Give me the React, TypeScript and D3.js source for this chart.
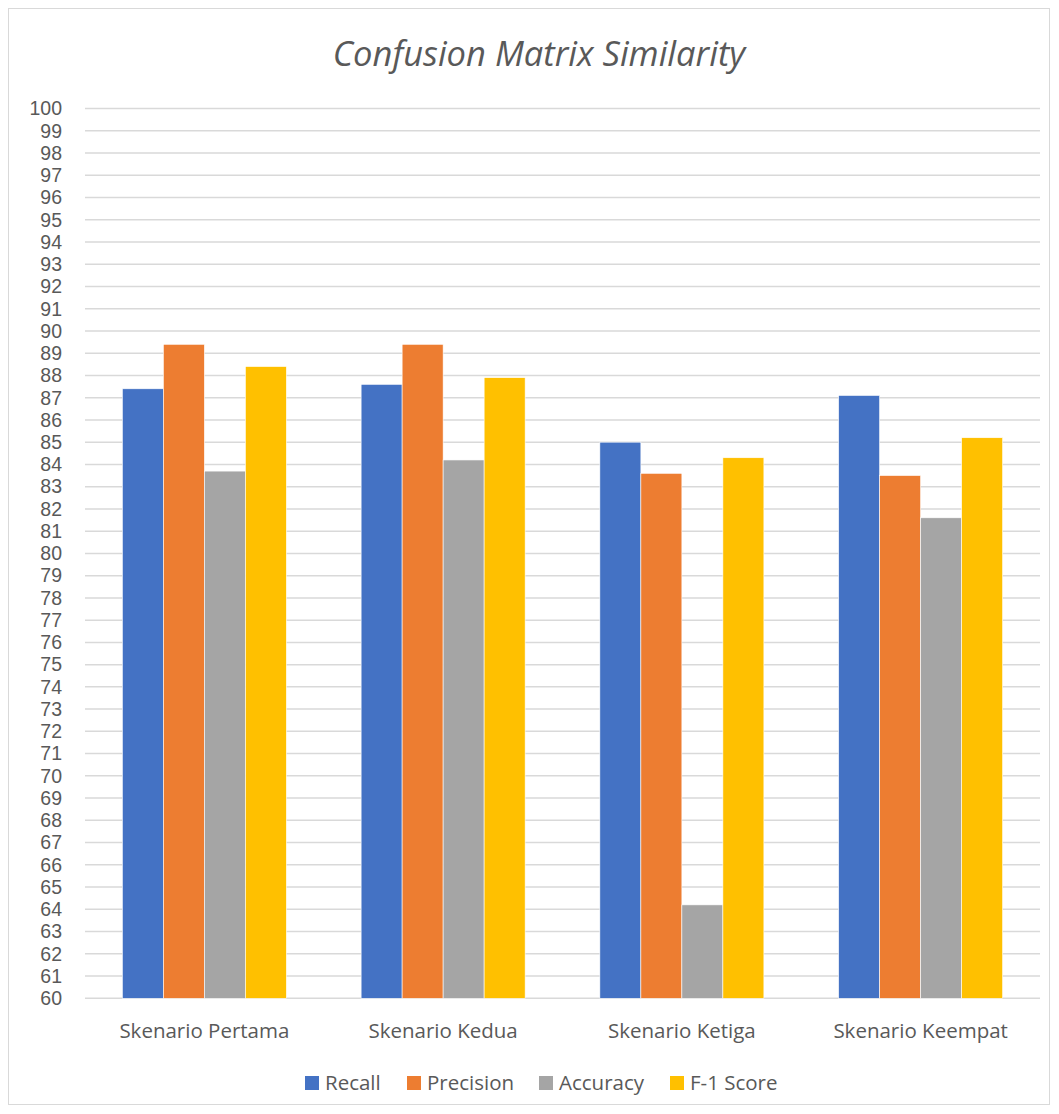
import React from "react";
import * as d3 from "d3";

const categories = ["Skenario Pertama", "Skenario Kedua", "Skenario Ketiga", "Skenario Keempat"];
const seriesNames = ["Recall", "Precision", "Accuracy", "F-1 Score"];
const recall = [87.4, 87.6, 85.0, 87.1];
const precision = [89.4, 89.4, 83.6, 83.5];
const accuracy = [83.7, 84.2, 64.2, 81.6];
const f1 = [88.4, 87.9, 84.3, 85.2];
const seriesValues = [recall, precision, accuracy, f1];
const colors = ["#4472C4", "#ED7D31", "#A5A5A5", "#FFC000"];
const yTicks = d3.range(60, 101, 1);

const W = 1059;
const H = 1114;
const left = 85;
const right = 1040;
const top = 108.5;
const bottom = 998.3;
const FONT = "'Open Sans', 'Liberation Sans', sans-serif";
const TICKFONT = "'Liberation Sans', Arial, sans-serif";
const TXT = "#595959";

export default function App() {
  const x0 = d3.scaleBand<string>().domain(categories).range([left, right]).paddingInner(0.313).paddingOuter(0.1565);
  const x1 = d3.scaleBand<string>().domain(seriesNames).range([0, x0.bandwidth()]);
  const y = d3.scaleLinear().domain([60, 100]).range([bottom, top]);

  const legendX = [305, 407, 539, 670];

  return (
    <svg width={W} height={H} style={{ position: "absolute", left: 0, top: 0 }}>
      <rect x={0} y={0} width={W} height={H} fill="#fff" />
      <rect x={8.5} y={8.5} width={1041} height={1096} fill="#fff" stroke="#d9d9d9" strokeWidth={1} />
      <text x={539} y={66} textAnchor="middle" fontFamily={FONT} fontStyle="italic" fontSize={34.5} fill={TXT}>
        Confusion Matrix Similarity
      </text>
      {yTicks.map((t) => (
        <g key={t}>
          <line x1={left} x2={right} y1={y(t)} y2={y(t)} stroke="#d9d9d9" strokeWidth={1.5} />
          <text x={62} y={y(t)} dy="0.35em" textAnchor="end" fontFamily={TICKFONT} fontSize={19.5} fill={TXT}>
            {t}
          </text>
        </g>
      ))}
      {categories.map((c, ci) => (
        <g key={c} transform={`translate(${x0(c)},0)`}>
          {seriesNames.map((s, si) => {
            const v = seriesValues[si][ci];
            return (
              <rect
                key={s}
                x={x1(s)}
                y={y(v)}
                width={x1.bandwidth()}
                height={y(60) - y(v)}
                fill={colors[si]}
                stroke="#fff"
                strokeWidth={0.6}
              />
            );
          })}
          <text x={x0.bandwidth() / 2} y={1031} dy="0.35em" textAnchor="middle" fontFamily={FONT} fontSize={20.5} fill={TXT}>
            {c}
          </text>
        </g>
      ))}
      {seriesNames.map((s, si) => (
        <g key={s}>
          <rect x={legendX[si]} y={1076} width={14} height={14} fill={colors[si]} />
          <text x={legendX[si] + 20} y={1083} dy="0.35em" fontFamily={FONT} fontSize={20.5} fill={TXT}>
            {s}
          </text>
        </g>
      ))}
    </svg>
  );
}
